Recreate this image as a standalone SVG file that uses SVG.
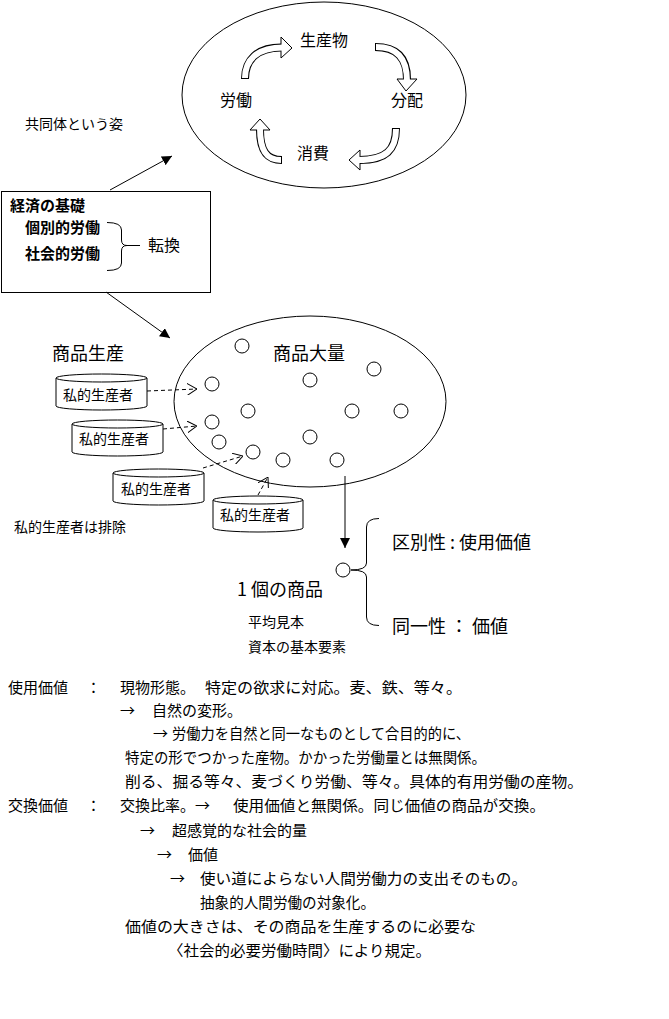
<svg xmlns="http://www.w3.org/2000/svg" width="669" height="1019" viewBox="0 0 669 1019">
<style>
text{font-family:"Noto Sans CJK JP","Noto Sans",sans-serif;fill:#000}
.s14{font-size:14px}.s15{font-size:15px}.s16{font-size:16px}.s18{font-size:18px}
.b{font-weight:bold}
.ln{fill:none;stroke:#000;stroke-width:1}
.dash{fill:none;stroke:#000;stroke-width:1;stroke-dasharray:4 3}
.shape{fill:#fff;stroke:#000;stroke-width:1}
.bo{fill:none;stroke:#000;stroke-width:8}
.bi{fill:none;stroke:#fff;stroke-width:6}
.hd{fill:#fff;stroke:#000;stroke-width:1}
</style>
<defs>
<marker id="fa" viewBox="0 0 10 10" refX="10" refY="5" markerWidth="10" markerHeight="10" markerUnits="userSpaceOnUse" orient="auto"><path d="M0,0 L10,5 L0,10 Z" fill="#000"/></marker>
<marker id="oa" viewBox="0 0 10 12" refX="10" refY="6" markerWidth="10" markerHeight="12" markerUnits="userSpaceOnUse" orient="auto"><path d="M0,0 L10,6 L0,12" fill="none" stroke="#000" stroke-width="1"/></marker>
</defs>
<rect width="669" height="1019" fill="#fff"/>

<g id="cycle">
<ellipse class="ln" cx="324" cy="95" rx="142" ry="93"/>
<text class="s16" x="300" y="46">生産物</text>
<text class="s16" x="220" y="106">労働</text>
<text class="s16" x="391" y="106">分配</text>
<text class="s16" x="297" y="159">消費</text>
<g id="barrow-a">
<path class="bo" d="M245,79 C245,60 257,47.5 281,47.5"/>
<polygon class="hd" points="281,37 292,48 281,58"/>
<path class="bi" d="M245,78 C245,60 257,47.5 283,47.5"/>
</g>
<g id="barrow-b">
<path class="bo" d="M375,47 C397,47 407,58 407,79"/>
<polygon class="hd" points="397,79 417,79 406,91"/>
<path class="bi" d="M376,47 C397,47 407,58 407,81"/>
</g>
<g id="barrow-c">
<path class="bo" d="M396,128 C396,150 386,160 360,160"/>
<polygon class="hd" points="360,150 360,170 349,160"/>
<path class="bi" d="M396,129 C396,150 386,160 358,160"/>
</g>
<g id="barrow-d">
<path class="bo" d="M282,160 C266,160 260,150 260,130"/>
<polygon class="hd" points="250,130 270,130 260,119"/>
<path class="bi" d="M281,160 C266,160 260,150 260,128"/>
</g>
</g>

<g id="label-kyodotai"><text class="s14" x="25" y="129">共同体という姿</text></g>

<g id="basis-box">
<rect class="shape" x="1.5" y="191.5" width="209" height="101"/>
<text class="s15 b" x="10" y="211">経済の基礎</text>
<text class="s15 b" x="25" y="233">個別的労働</text>
<text class="s15 b" x="25" y="259">社会的労働</text>
<path class="ln" d="M107,222.5 Q121.5,222.5 121.5,230 L121.5,240 Q121.5,245.5 127,245.5 L140,245.5 M127,245.5 Q121.5,245.5 121.5,251 L121.5,263 Q121.5,270.5 107,270.5"/>
<text class="s16" x="148" y="251">転換</text>
</g>

<g id="commodity-mass">
<ellipse class="ln" cx="310" cy="401.5" rx="136" ry="85.5"/>
<text class="s18" x="273" y="360">商品大量</text>
<g class="ln">
<circle cx="242" cy="346" r="7"/>
<circle cx="212" cy="384" r="7"/>
<circle cx="310" cy="380" r="7"/>
<circle cx="374" cy="369" r="7"/>
<circle cx="248" cy="411" r="7"/>
<circle cx="352" cy="411" r="7"/>
<circle cx="401" cy="411" r="7"/>
<circle cx="212" cy="422" r="7"/>
<circle cx="219" cy="442" r="7"/>
<circle cx="310" cy="437" r="7"/>
<circle cx="253" cy="452" r="7"/>
<circle cx="283" cy="460" r="7"/>
<circle cx="337" cy="460" r="7"/>
</g>
</g>

<g id="label-shohinseisan"><text class="s18" x="52" y="360">商品生産</text></g>

<g id="producer-1">
<path class="shape" d="M56,378 L56,406 A45.5,4 0 0 0 147,406 L147,378"/>
<ellipse class="shape" cx="101.5" cy="378" rx="45.5" ry="4"/>
<text class="s14" x="63" y="400">私的生産者</text>
</g>
<g id="producer-2">
<path class="shape" d="M72,424 L72,452 A45.5,4 0 0 0 163,452 L163,424"/>
<ellipse class="shape" cx="117.5" cy="424" rx="45.5" ry="4"/>
<text class="s14" x="79" y="444">私的生産者</text>
</g>
<g id="producer-3">
<path class="shape" d="M113,473 L113,501 A45.5,4 0 0 0 204,501 L204,473"/>
<ellipse class="shape" cx="158.5" cy="473" rx="45.5" ry="4"/>
<text class="s14" x="121" y="494">私的生産者</text>
</g>
<g id="producer-4">
<path class="shape" d="M213,500 L213,528 A45,4 0 0 0 303,528 L303,500"/>
<ellipse class="shape" cx="258" cy="500" rx="45" ry="4"/>
<text class="s14" x="220" y="520">私的生産者</text>
</g>

<g id="label-haijo"><text class="s14" x="14" y="532">私的生産者は排除</text></g>

<g id="single-commodity">
<circle class="ln" cx="343" cy="570" r="7"/>
<text class="s18" x="237" y="596">1 個の商品</text>
<text class="s14" x="248" y="627">平均見本</text>
<text class="s14" x="248" y="652">資本の基本要素</text>
<path class="ln" d="M379,518.5 Q366.5,518.5 366.5,527 L366.5,563 Q366.5,570 351,570 Q366.5,570 366.5,577 L366.5,617 Q366.5,625.5 379,625.5"/>
<text class="s18" x="392" y="549">区別性 : 使用価値</text>
<text class="s18" x="392" y="633">同一性 ： 価値</text>
</g>

<g id="connectors">
<line class="ln" x1="110" y1="190" x2="172" y2="156" marker-end="url(#fa)"/>
<line class="ln" x1="106" y1="292" x2="170" y2="338" marker-end="url(#fa)"/>
<line class="ln" x1="345" y1="476" x2="345" y2="548" marker-end="url(#fa)"/>
<path class="dash" d="M147,391 L197,389" marker-end="url(#oa)"/>
<path class="dash" d="M163,429 L197,426" marker-end="url(#oa)"/>
<path class="dash" d="M203,468 L243,456" marker-end="url(#oa)"/>
<path class="dash" d="M258,495 L268,477" marker-end="url(#oa)"/>
</g>

<g id="notes">
<text class="s15" x="8" y="693">使用価値</text>
<text class="s15" x="86" y="693">：</text>
<text class="s15" x="120" y="693">現物形態。</text>
<text class="s15" x="205" y="693" textLength="257" lengthAdjust="spacingAndGlyphs">特定の欲求に対応。麦、鉄、等々。</text>
<text class="s15" x="120" y="716">→</text>
<text class="s15" x="152" y="716">自然の変形。</text>
<text class="s15" x="153" y="739">→</text>
<text class="s15" x="172" y="739" textLength="298" lengthAdjust="spacingAndGlyphs">労働力を自然と同一なものとして合目的的に、</text>
<text class="s15" x="125" y="763" textLength="361" lengthAdjust="spacingAndGlyphs">特定の形でつかった産物。かかった労働量とは無関係。</text>
<text class="s15" x="125" y="787" textLength="458" lengthAdjust="spacingAndGlyphs">削る、掘る等々、麦づくり労働、等々。具体的有用労働の産物。</text>
<text class="s15" x="8" y="811">交換価値</text>
<text class="s15" x="86" y="811">：</text>
<text class="s15" x="120" y="811">交換比率。→</text>
<text class="s15" x="233" y="811" textLength="312" lengthAdjust="spacingAndGlyphs">使用価値と無関係。同じ価値の商品が交換。</text>
<text class="s15" x="140" y="836">→</text>
<text class="s15" x="172" y="836">超感覚的な社会的量</text>
<text class="s15" x="157" y="860">→</text>
<text class="s15" x="188" y="860">価値</text>
<text class="s15" x="170" y="884">→</text>
<text class="s15" x="200" y="884" textLength="327" lengthAdjust="spacingAndGlyphs">使い道によらない人間労働力の支出そのもの。</text>
<text class="s15" x="200" y="908" textLength="175" lengthAdjust="spacingAndGlyphs">抽象的人間労働の対象化。</text>
<text class="s15" x="125" y="932" textLength="351" lengthAdjust="spacingAndGlyphs">価値の大きさは、その商品を生産するのに必要な</text>
<text class="s15" x="168" y="956" textLength="263" lengthAdjust="spacingAndGlyphs">〈社会的必要労働時間〉により規定。</text>
</g>
</svg>
